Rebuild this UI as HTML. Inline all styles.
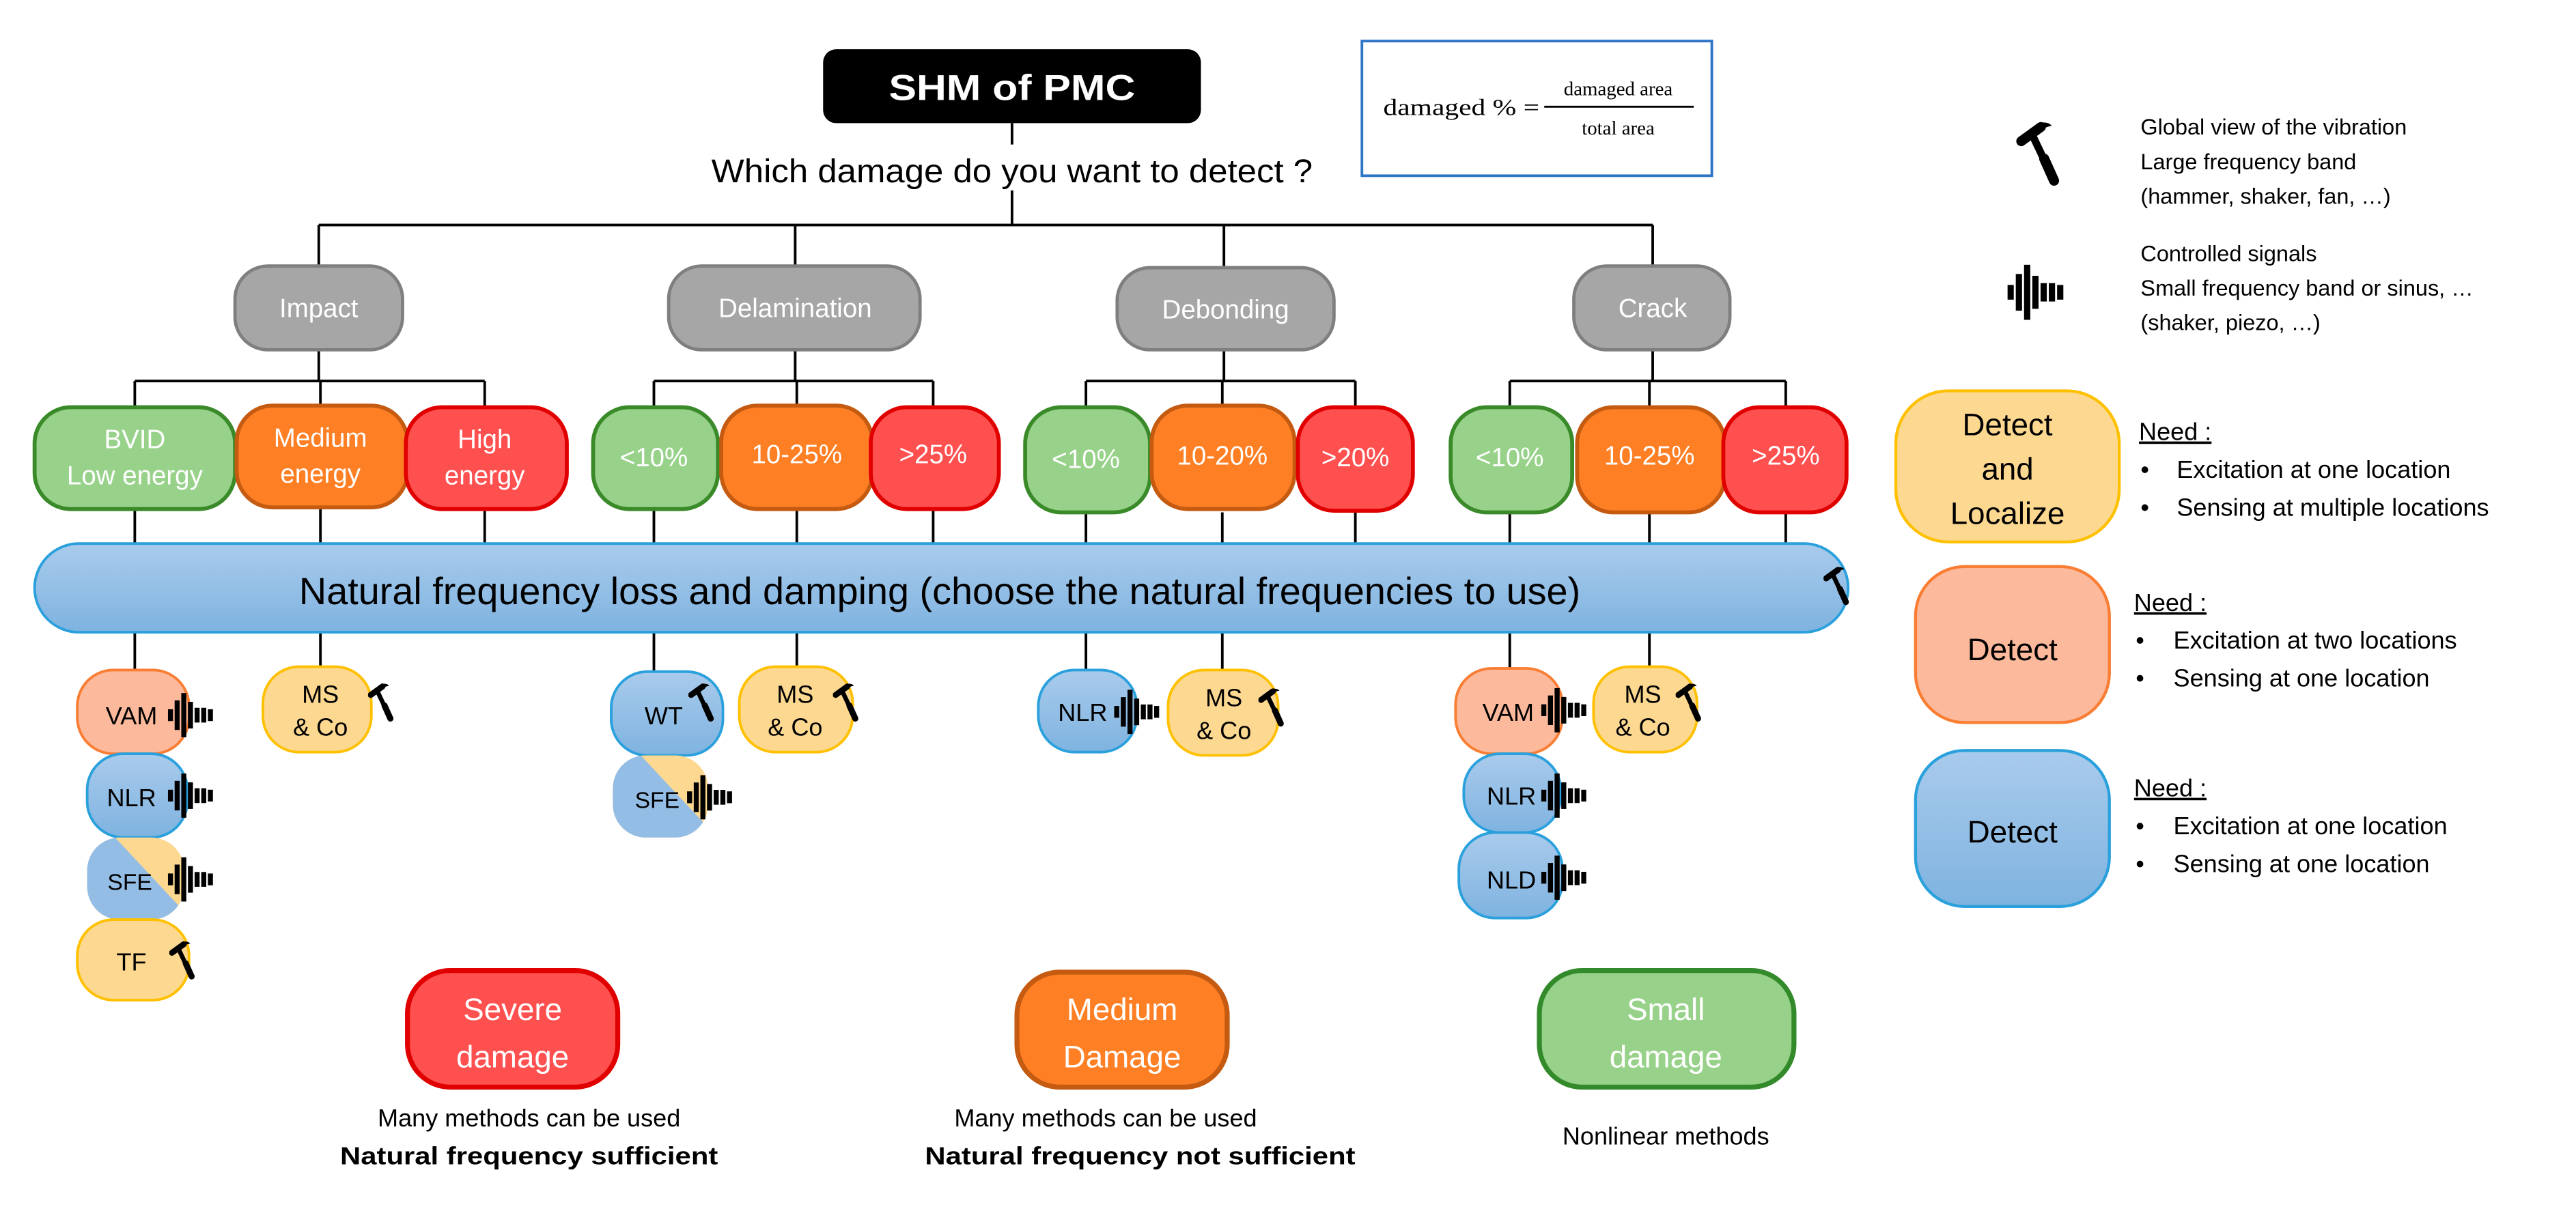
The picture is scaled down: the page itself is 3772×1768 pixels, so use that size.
<!DOCTYPE html>
<html><head><meta charset="utf-8"><style>
html,body{margin:0;padding:0;background:#fff}
svg{display:block}
text{font-family:"Liberation Sans",sans-serif}
</style></head><body>
<svg width="3772" height="1768" viewBox="0 0 1568 735" xmlns="http://www.w3.org/2000/svg">
<defs>
<linearGradient id="bg" x1="0" y1="0" x2="0" y2="1"><stop offset="0" stop-color="#a9cbec"/><stop offset="1" stop-color="#7fb3e0"/></linearGradient>
<linearGradient id="bs" x1="0" y1="0" x2="0" y2="1"><stop offset="0" stop-color="#a9cbec"/><stop offset="1" stop-color="#7fb3e0"/></linearGradient>
<symbol id="ham" viewBox="0 0 20 30">
<line x1="2" y1="9" x2="11" y2="2.5" stroke="#000" stroke-width="4.5" stroke-linecap="round"/>
<path d="M9 1 Q14 -0.5 16 2 Q12 2.5 11 5 Z" fill="#000"/>
<line x1="7" y1="6" x2="17" y2="27" stroke="#000" stroke-width="3.4" stroke-linecap="round"/>
<line x1="12.5" y1="17" x2="17" y2="27" stroke="#000" stroke-width="4.6" stroke-linecap="round"/>
</symbol>
<symbol id="sig" viewBox="0 0 34 30">
<rect x="0" y="11" width="3.4" height="8"/><rect x="4.5" y="5" width="3.4" height="20"/><rect x="9" y="0" width="3.4" height="30"/><rect x="13.5" y="6" width="3.4" height="18"/><rect x="18" y="10" width="3.4" height="10"/><rect x="22.5" y="10" width="3.4" height="10"/><rect x="27" y="11" width="3.4" height="8"/>
</symbol>
<clipPath id="c1"><rect x="53" y="510" width="59" height="50" rx="20"/></clipPath>
<clipPath id="c2"><rect x="373" y="460" width="58" height="50" rx="20"/></clipPath>
</defs>

<g stroke="#000" stroke-width="1.6" fill="none">
<line x1="616" y1="75" x2="616" y2="88"/>
<line x1="616" y1="116" x2="616" y2="137"/>
<line x1="194" y1="137" x2="1006" y2="137"/>
<line x1="194" y1="137" x2="194" y2="162"/><line x1="484" y1="137" x2="484" y2="162"/><line x1="745" y1="137" x2="745" y2="162"/><line x1="1006" y1="137" x2="1006" y2="162"/>
<line x1="194" y1="213" x2="194" y2="232"/><line x1="82" y1="232" x2="295" y2="232"/>
<line x1="82" y1="232" x2="82" y2="248"/><line x1="195" y1="232" x2="195" y2="248"/><line x1="295" y1="232" x2="295" y2="248"/>
<line x1="484" y1="213" x2="484" y2="232"/><line x1="398" y1="232" x2="568" y2="232"/>
<line x1="398" y1="232" x2="398" y2="248"/><line x1="485" y1="232" x2="485" y2="248"/><line x1="568" y1="232" x2="568" y2="248"/>
<line x1="745" y1="213" x2="745" y2="232"/><line x1="661" y1="232" x2="825" y2="232"/>
<line x1="661" y1="232" x2="661" y2="248"/><line x1="744" y1="232" x2="744" y2="248"/><line x1="825" y1="232" x2="825" y2="248"/>
<line x1="1006" y1="213" x2="1006" y2="232"/><line x1="919" y1="232" x2="1087" y2="232"/>
<line x1="919" y1="232" x2="919" y2="248"/><line x1="1004" y1="232" x2="1004" y2="248"/><line x1="1087" y1="232" x2="1087" y2="248"/>
<line x1="82" y1="310" x2="82" y2="331"/><line x1="195" y1="310" x2="195" y2="331"/><line x1="295" y1="310" x2="295" y2="331"/>
<line x1="398" y1="310" x2="398" y2="331"/><line x1="485" y1="310" x2="485" y2="331"/><line x1="568" y1="310" x2="568" y2="331"/>
<line x1="661" y1="312" x2="661" y2="331"/><line x1="744" y1="312" x2="744" y2="331"/><line x1="825" y1="312" x2="825" y2="331"/>
<line x1="919" y1="312" x2="919" y2="331"/><line x1="1004" y1="312" x2="1004" y2="331"/><line x1="1087" y1="312" x2="1087" y2="331"/>
<line x1="82" y1="385" x2="82" y2="408"/><line x1="195" y1="385" x2="195" y2="406"/>
<line x1="398" y1="385" x2="398" y2="409"/><line x1="485" y1="385" x2="485" y2="406"/>
<line x1="661" y1="385" x2="661" y2="408"/><line x1="744" y1="385" x2="744" y2="408"/>
<line x1="919" y1="385" x2="919" y2="407"/><line x1="1004" y1="385" x2="1004" y2="406"/>
</g>

<rect x="501" y="30" width="230" height="45" rx="8" fill="#000"/>
<text x="616" y="61" font-size="22" font-weight="bold" fill="#fff" text-anchor="middle" textLength="150" lengthAdjust="spacingAndGlyphs">SHM of PMC</text>
<text x="616" y="111" font-size="20" text-anchor="middle" textLength="366" lengthAdjust="spacingAndGlyphs">Which damage do you want to detect ?</text>

<rect x="829" y="25" width="213" height="82" fill="#fff" stroke="#2e75c6" stroke-width="1.6"/>
<text x="842" y="70" font-size="14" textLength="95" lengthAdjust="spacingAndGlyphs" style="font-family:'Liberation Serif',serif">damaged % =</text>
<line x1="940" y1="65" x2="1031" y2="65" stroke="#000" stroke-width="1.2"/>
<text x="985" y="58" font-size="12" text-anchor="middle" style="font-family:'Liberation Serif',serif">damaged area</text>
<text x="985" y="82" font-size="12" text-anchor="middle" style="font-family:'Liberation Serif',serif">total area</text>

<g fill="#a6a6a6" stroke="#7f7f7f" stroke-width="2">
<rect x="143" y="162" width="102" height="51" rx="20"/>
<rect x="407" y="162" width="153" height="51" rx="20"/>
<rect x="680" y="163" width="132" height="50" rx="20"/>
<rect x="958" y="162" width="95" height="51" rx="20"/>
</g>
<g fill="#fff" font-size="16" text-anchor="middle">
<text x="194" y="193">Impact</text>
<text x="484" y="193">Delamination</text>
<text x="746" y="194">Debonding</text>
<text x="1006" y="193">Crack</text>
</g>

<g stroke-width="2.4">
<rect x="21" y="248" width="122" height="62" rx="22" fill="#98d28a" stroke="#3a8a2a"/>
<rect x="144" y="247" width="104" height="62" rx="22" fill="#fe7f24" stroke="#c55a11"/>
<rect x="247" y="248" width="98" height="62" rx="22" fill="#ff5050" stroke="#e00000"/>
<rect x="361" y="248" width="76" height="62" rx="22" fill="#98d28a" stroke="#3a8a2a"/>
<rect x="439" y="247" width="92" height="63" rx="22" fill="#fe7f24" stroke="#c55a11"/>
<rect x="530" y="248" width="78" height="62" rx="22" fill="#ff5050" stroke="#e00000"/>
<rect x="624" y="248" width="76" height="64" rx="22" fill="#98d28a" stroke="#3a8a2a"/>
<rect x="701" y="247" width="87" height="63" rx="22" fill="#fe7f24" stroke="#c55a11"/>
<rect x="790" y="248" width="70" height="63" rx="22" fill="#ff5050" stroke="#e00000"/>
<rect x="883" y="248" width="74" height="64" rx="22" fill="#98d28a" stroke="#3a8a2a"/>
<rect x="960" y="248" width="90" height="64" rx="22" fill="#fe7f24" stroke="#c55a11"/>
<rect x="1049" y="248" width="75" height="64" rx="22" fill="#ff5050" stroke="#e00000"/>
</g>
<g fill="#fff" font-size="16" text-anchor="middle">
<text x="82" y="273">BVID</text><text x="82" y="295">Low energy</text>
<text x="195" y="272">Medium</text><text x="195" y="294">energy</text>
<text x="295" y="273">High</text><text x="295" y="295">energy</text>
<text x="398" y="284">&lt;10%</text><text x="485" y="282">10-25%</text><text x="568" y="282">&gt;25%</text>
<text x="661" y="285">&lt;10%</text><text x="744" y="283">10-20%</text><text x="825" y="284">&gt;20%</text>
<text x="919" y="284">&lt;10%</text><text x="1004" y="283">10-25%</text><text x="1087" y="283">&gt;25%</text>
</g>

<rect x="21" y="331" width="1104" height="54" rx="27" fill="url(#bg)" stroke="#2aa0dc" stroke-width="1.6"/>
<text x="572" y="368" font-size="23" text-anchor="middle" textLength="780" lengthAdjust="spacingAndGlyphs">Natural frequency loss and damping (choose the natural frequencies to use)</text>
<use href="#ham" x="1110" y="345" width="16" height="24"/>

<g stroke-width="1.6">
<rect x="47" y="408" width="68" height="51" rx="22" fill="#fdb99b" stroke="#f97d32"/>
<rect x="53" y="459" width="61" height="51" rx="22" fill="url(#bs)" stroke="#2aa0dc"/>
<g clip-path="url(#c1)"><rect x="50" y="505" width="70" height="60" fill="#fdd890"/><polygon points="50,512 70,510 112,555 112,565 50,565" fill="#94bde6"/></g>
<rect x="47" y="560" width="68" height="49" rx="22" fill="#fdd890" stroke="#ffc000"/>
<rect x="160" y="406" width="66" height="52" rx="22" fill="#fdd890" stroke="#ffc000"/>
<rect x="372" y="409" width="68" height="51" rx="22" fill="url(#bs)" stroke="#2aa0dc"/>
<g clip-path="url(#c2)"><rect x="370" y="455" width="70" height="60" fill="#fdd890"/><polygon points="370,462 390,460 432,505 432,515 370,515" fill="#94bde6"/></g>
<rect x="450" y="406" width="69" height="52" rx="22" fill="#fdd890" stroke="#ffc000"/>
<rect x="632" y="408" width="60" height="50" rx="22" fill="url(#bs)" stroke="#2aa0dc"/>
<rect x="711" y="408" width="67" height="52" rx="22" fill="#fdd890" stroke="#ffc000"/>
<rect x="886" y="407" width="65" height="52" rx="22" fill="#fdb99b" stroke="#f97d32"/>
<rect x="891" y="459" width="59" height="48" rx="22" fill="url(#bs)" stroke="#2aa0dc"/>
<rect x="888" y="507" width="63" height="52" rx="22" fill="url(#bs)" stroke="#2aa0dc"/>
<rect x="970" y="406" width="63" height="52" rx="22" fill="#fdd890" stroke="#ffc000"/>
</g>
<g font-size="15" text-anchor="middle">
<text x="80" y="441">VAM</text><text x="80" y="491">NLR</text><text x="79" y="542" font-size="14">SFE</text><text x="80" y="591">TF</text>
<text x="195" y="428">MS</text><text x="195" y="448">&amp; Co</text>
<text x="404" y="441">WT</text><text x="400" y="492" font-size="14">SFE</text>
<text x="484" y="428">MS</text><text x="484" y="448">&amp; Co</text>
<text x="659" y="439">NLR</text>
<text x="745" y="430">MS</text><text x="745" y="450">&amp; Co</text>
<text x="918" y="439">VAM</text><text x="920" y="490">NLR</text><text x="920" y="541">NLD</text>
<text x="1000" y="428">MS</text><text x="1000" y="448">&amp; Co</text>
</g>
<use href="#sig" x="102" y="422" width="31" height="27"/>
<use href="#sig" x="102" y="471" width="31" height="27"/>
<use href="#sig" x="102" y="522" width="31" height="27"/>
<use href="#ham" x="103" y="573" width="16" height="24"/>
<use href="#ham" x="224" y="416" width="16" height="24"/>
<use href="#ham" x="419" y="416" width="16" height="24"/>
<use href="#sig" x="418" y="472" width="31" height="27"/>
<use href="#ham" x="507" y="416" width="16" height="24"/>
<use href="#sig" x="678" y="420" width="31" height="27"/>
<use href="#ham" x="766" y="419" width="16" height="24"/>
<use href="#sig" x="938" y="419" width="31" height="27"/>
<use href="#ham" x="1020" y="416" width="16" height="24"/>
<use href="#sig" x="938" y="471" width="31" height="27"/>
<use href="#sig" x="938" y="521" width="31" height="27"/>

<rect x="248" y="591" width="128" height="71" rx="26" fill="#ff5050" stroke="#e00000" stroke-width="3"/>
<rect x="619" y="592" width="128" height="70" rx="26" fill="#fe7f24" stroke="#c55a11" stroke-width="3"/>
<rect x="937" y="591" width="155" height="71" rx="26" fill="#98d28a" stroke="#338a2a" stroke-width="3"/>
<g fill="#fff" font-size="19" text-anchor="middle">
<text x="312" y="621">Severe</text><text x="312" y="650">damage</text>
<text x="683" y="621">Medium</text><text x="683" y="650">Damage</text>
<text x="1014" y="621">Small</text><text x="1014" y="650">damage</text>
</g>
<g font-size="15" text-anchor="middle">
<text x="322" y="686">Many methods can be used</text>
<text x="322" y="709" font-weight="bold" textLength="230" lengthAdjust="spacingAndGlyphs">Natural frequency sufficient</text>
<text x="673" y="686">Many methods can be used</text>
<text x="694" y="709" font-weight="bold" textLength="262" lengthAdjust="spacingAndGlyphs">Natural frequency not sufficient</text>
<text x="1014" y="697">Nonlinear methods</text>
</g>

<use href="#ham" x="1226" y="74" width="30" height="40"/>
<use href="#sig" x="1222" y="161" width="38" height="34"/>
<g font-size="13.5">
<text x="1303" y="82">Global view of the vibration</text>
<text x="1303" y="103">Large frequency band</text>
<text x="1303" y="124">(hammer, shaker, fan, …)</text>
<text x="1303" y="159">Controlled signals</text>
<text x="1303" y="180">Small frequency band or sinus, …</text>
<text x="1303" y="201">(shaker, piezo, …)</text>
</g>
<rect x="1154" y="238" width="136" height="92" rx="32" fill="#fdd890" stroke="#ffc000" stroke-width="1.8"/>
<rect x="1166" y="345" width="118" height="95" rx="30" fill="#fdb99b" stroke="#f97d32" stroke-width="1.8"/>
<rect x="1166" y="457" width="118" height="95" rx="30" fill="url(#bs)" stroke="#2aa0dc" stroke-width="1.8"/>
<g font-size="19" text-anchor="middle">
<text x="1222" y="265">Detect</text><text x="1222" y="292">and</text><text x="1222" y="319">Localize</text>
<text x="1225" y="402">Detect</text>
<text x="1225" y="513">Detect</text>
</g>
<g font-size="15">
<text x="1302" y="268" text-decoration="underline">Need :</text>
<text x="1303" y="291">•</text><text x="1325" y="291">Excitation at one location</text>
<text x="1303" y="314">•</text><text x="1325" y="314">Sensing at multiple locations</text>
<text x="1299" y="372" text-decoration="underline">Need :</text>
<text x="1300" y="395">•</text><text x="1323" y="395">Excitation at two locations</text>
<text x="1300" y="418">•</text><text x="1323" y="418">Sensing at one location</text>
<text x="1299" y="485" text-decoration="underline">Need :</text>
<text x="1300" y="508">•</text><text x="1323" y="508">Excitation at one location</text>
<text x="1300" y="531">•</text><text x="1323" y="531">Sensing at one location</text>
</g>
</svg>
</body></html>
